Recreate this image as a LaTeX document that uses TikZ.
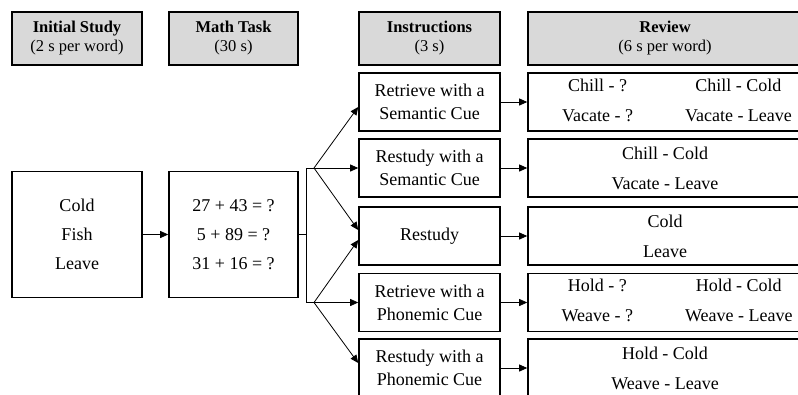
\documentclass[tikz,border=0pt]{standalone}
\usepackage{fontspec}
\setmainfont{Liberation Serif}
\usetikzlibrary{arrows.meta}
\definecolor{headgray}{RGB}{217,217,217}

\begin{document}
\begin{tikzpicture}[x=1pt, y=-1pt,
  every node/.style={font=\fontsize{18}{21}\selectfont},
  head/.style={draw, line width=1.6pt, fill=headgray, align=center, minimum height=53pt, inner sep=0pt, font=\fontsize{16.5}{19}\selectfont},
  box/.style={draw, line width=1.6pt, align=center, inner sep=0pt, minimum height=58pt},
  arr/.style={-{Triangle[length=8pt,width=7pt]}, line width=0.8pt}]
\useasboundingbox (0,0) rectangle (798,394);
\clip (0,0) rectangle (798,394);

% headers
\node[head, minimum width=130pt] (Initial) at (77,38.5) {\textbf{Initial Study}\\(2 s per word)};
\node[head, minimum width=129pt] (Math) at (233.5,38.5) {\textbf{Math Task}\\(30 s)};
\node[head, minimum width=141pt] (Instr) at (429.5,38.5) {\textbf{Instructions}\\(3 s)};
\node[head, minimum width=274pt] (Review) at (665,38.5) {\textbf{Review}\\(6 s per word)};

% study and math task
\node[box, minimum width=130pt, minimum height=126pt] (Words) at (77,234.5) {Cold\\[8pt]Fish\\[8pt]Leave};
\node[box, minimum width=129pt, minimum height=126pt] (Sums) at (233.5,234.5) {27 + 43 = ?\\[8pt]5 + 89 = ?\\[8pt]31 + 16 = ?};

% instructions
\node[box, minimum width=141pt] (Ret Sem) at (429.5,102) {Retrieve with a\\[2pt]Semantic Cue};
\node[box, minimum width=141pt] (Res Sem) at (429.5,168) {Restudy with a\\[2pt]Semantic Cue};
\node[box, minimum width=141pt] (Restudy) at (429.5,236) {Restudy};
\node[box, minimum width=141pt] (Ret Pho) at (429.5,302.5) {Retrieve with a\\[2pt]Phonemic Cue};
\node[box, minimum width=141pt] (Res Pho) at (429.5,368) {Restudy with a\\[2pt]Phonemic Cue};

% review
\node[box, minimum width=274pt] (Rev 1) at (665,102) {\begin{tabular}{@{\hspace{24pt}}c@{\hspace{52pt}}c@{}}Chill - ? & Chill - Cold\\[9pt]Vacate - ? & Vacate - Leave\end{tabular}};
\node[box, minimum width=274pt] (Rev 2) at (665,168) {Chill - Cold\\[9pt]Vacate - Leave};
\node[box, minimum width=274pt] (Rev 3) at (665,236) {Cold\\[9pt]Leave};
\node[box, minimum width=274pt] (Rev 4) at (665,302.5) {\begin{tabular}{@{\hspace{24pt}}c@{\hspace{52pt}}c@{}}Hold - ? & Hold - Cold\\[9pt]Weave - ? & Weave - Leave\end{tabular}};
\node[box, minimum width=274pt] (Rev 5) at (665,368) {Hold - Cold\\[9pt]Weave - Leave};

\coordinate (split) at (306,234.5);
\coordinate (up stem) at (306,168);
\coordinate (low stem) at (306,302.5);
\coordinate (up fork) at (314,168);
\coordinate (low fork) at (314,302.5);

\draw[arr] (Words) -- (Sums);
\draw[line width=0.8pt] (Sums.east) -- (split);
\draw[line width=0.8pt] (up stem) -- (low stem);
\draw[arr] (up stem) -- (Res Sem.west);
\draw[arr] (up fork) -- ([yshift=-5pt]Ret Sem.west);
\draw[arr] (up fork) -- ([yshift=6pt]Restudy.west);
\draw[line width=0.8pt] (low stem) -- (low fork);
\draw[arr] (low fork) -- (Ret Pho.west);
\draw[arr] (low fork) -- ([yshift=-4pt]Restudy.west);
\draw[arr] (low fork) -- ([yshift=5pt]Res Pho.west);

\draw[arr] (Ret Sem) -- (Rev 1);
\draw[arr] (Res Sem) -- (Rev 2);
\draw[arr] (Restudy) -- (Rev 3);
\draw[arr] (Ret Pho) -- (Rev 4);
\draw[arr] (Res Pho) -- (Rev 5);
\end{tikzpicture}
\end{document}
